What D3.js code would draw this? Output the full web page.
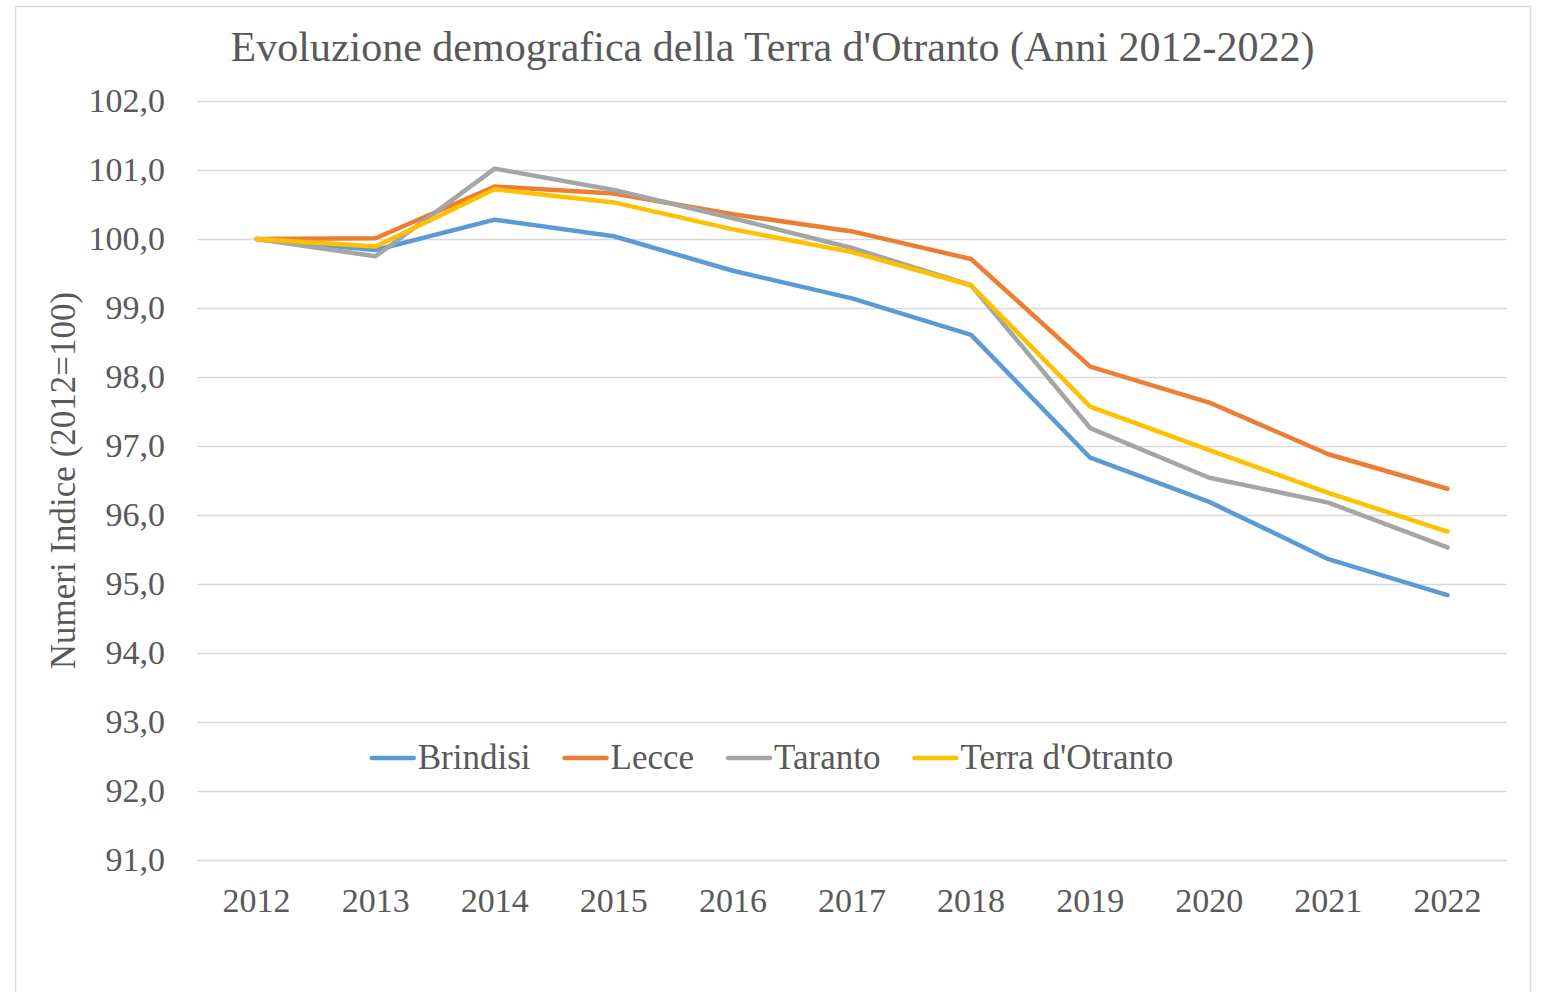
<!DOCTYPE html>
<html>
<head>
<meta charset="utf-8">
<script src="https://cdn.jsdelivr.net/npm/d3@7"></script>
<style>
  body { margin: 0; background: #fff; }
  text { font-family: "Liberation Serif", serif; fill: #595959; }
</style>
</head>
<body>
<svg width="1542" height="992"></svg>
<script>
const YEARS = ['2012', '2013', '2014', '2015', '2016', '2017', '2018', '2019', '2020', '2021', '2022'];
const BRINDISI = [100, 99.84, 100.28, 100.04, 99.54, 99.14, 98.61, 96.83, 96.19, 95.36, 94.84];
const LECCE = [100, 100.01, 100.76, 100.66, 100.36, 100.11, 99.71, 98.15, 97.63, 96.88, 96.38];
const TARANTO = [100, 99.75, 101.02, 100.71, 100.30, 99.87, 99.33, 97.26, 96.54, 96.18, 95.53];
const TERRA = [100, 99.89, 100.72, 100.53, 100.14, 99.81, 99.33, 97.57, 96.94, 96.32, 95.76];
const Y_TICKS = [91, 92, 93, 94, 95, 96, 97, 98, 99, 100, 101, 102];

const SERIES = [
    { name: 'Brindisi', values: BRINDISI, color: '#5B9BD5' },
    { name: 'Lecce', values: LECCE, color: '#ED7D31' },
    { name: 'Taranto', values: TARANTO, color: '#A5A5A5' },
    { name: "Terra d'Otranto", values: TERRA, color: '#FFC000' },
];

const PLOT = { left: 197, right: 1507, top: 101, bottom: 860 };

const svg = d3.select('svg');

// chart border
svg.append('rect')
    .attr('x', 15.5).attr('y', 6.5)
    .attr('width', 1515).attr('height', 1000)
    .attr('fill', 'none')
    .attr('stroke', '#d9d9d9')
    .attr('stroke-width', 1.5);

const xScale = d3.scaleBand()
    .domain(YEARS)
    .range([PLOT.left, PLOT.right]);

const yScale = d3.scaleLinear()
    .domain([91, 102])
    .range([PLOT.bottom, PLOT.top]);

// gridlines + y labels
const yAxis = svg.append('g')
    .attr('transform', `translate(${PLOT.left}, 0)`)
    .call(d3.axisLeft(yScale)
        .tickValues(Y_TICKS)
        .tickSize(-(PLOT.right - PLOT.left))
        .tickPadding(32)
        .tickFormat(d => d3.format('.1f')(d).replace('.', ',')));
yAxis.select('.domain').remove();
yAxis.selectAll('line').attr('stroke', '#d9d9d9').attr('stroke-width', 1.5);
yAxis.selectAll('text')
    .attr('fill', '#595959')
    .style('font-family', '"Liberation Serif", serif')
    .style('font-size', '34px');

// x labels
const xAxis = svg.append('g')
    .attr('transform', `translate(0, ${PLOT.bottom})`)
    .call(d3.axisBottom(xScale).tickSize(0).tickPadding(28));
xAxis.select('.domain').remove();
xAxis.selectAll('text')
    .attr('fill', '#595959')
    .style('font-family', '"Liberation Serif", serif')
    .style('font-size', '34px');

// lines
const line = d3.line()
    .x((d, i) => xScale(YEARS[i]) + xScale.bandwidth() / 2)
    .y(d => yScale(d));

svg.append('g')
    .selectAll('path')
    .data(SERIES)
    .enter()
    .append('path')
    .attr('d', s => line(s.values))
    .attr('fill', 'none')
    .attr('stroke', s => s.color)
    .attr('stroke-width', 4.5)
    .attr('stroke-linecap', 'round')
    .attr('stroke-linejoin', 'round');

// title
svg.append('text')
    .attr('x', 772.5)
    .attr('y', 61)
    .attr('text-anchor', 'middle')
    .style('font-size', '42px')
    .text("Evoluzione demografica della Terra d'Otranto (Anni 2012-2022)");

// y axis title
svg.append('text')
    .attr('transform', `translate(75, ${(PLOT.top + PLOT.bottom) / 2}) rotate(-90)`)
    .attr('text-anchor', 'middle')
    .style('font-size', '35px')
    .text('Numeri Indice (2012=100)');

// legend
const legend = svg.append('g');
const items = legend.selectAll('g')
    .data(SERIES)
    .enter()
    .append('g');
items.append('line')
    .attr('x1', 0).attr('x2', 42)
    .attr('y1', 0).attr('y2', 0)
    .attr('stroke', s => s.color)
    .attr('stroke-width', 4.5)
    .attr('stroke-linecap', 'round');
items.append('text')
    .attr('x', 46)
    .attr('y', 11)
    .style('font-size', '35px')
    .text(s => s.name);

let offset = 0;
items.each(function () {
    const w = 46 + this.querySelector('text').getComputedTextLength();
    d3.select(this).attr('transform', `translate(${offset}, 0)`);
    offset += w + 34;
});
const legendWidth = offset - 34;
legend.attr('transform', `translate(${772.5 - legendWidth / 2}, 758)`);
</script>
</body>
</html>
